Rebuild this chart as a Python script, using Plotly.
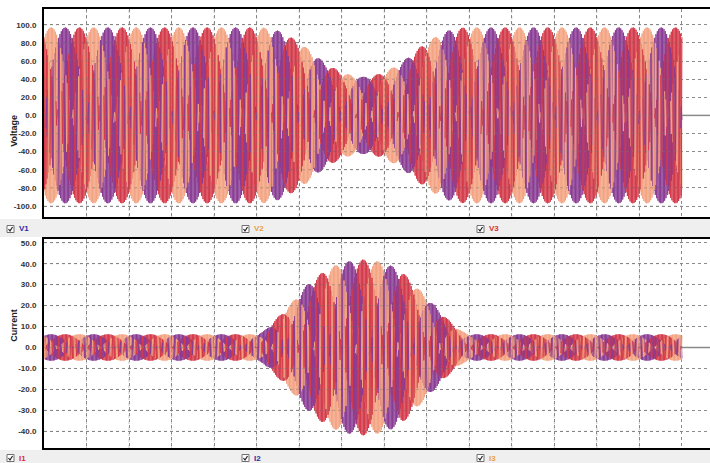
import numpy as np
import plotly.graph_objects as go

# x is in grid divisions (the recording spans 15 divisions, axis runs a bit past it)
X_END = 15.0
X_AXIS_MAX = 15.66

# voltage envelope (peak, V)
V_ENV_X = [0, 5.0, 5.3, 5.6, 6.0, 6.3, 6.6, 7.0, 7.25, 7.5, 7.75, 8.0, 8.4, 8.7, 9.0, 9.4, 9.7, 10.0, 15.0]
V_ENV_Y = [97, 97, 96.5, 92, 81, 70, 58, 47.5, 44, 42.5, 44, 47.5, 58, 70, 81, 92, 96.5, 97, 97]

# current envelope (peak, A)
I_ENV_X = [0, 5.0, 5.15, 5.3, 5.55, 5.8, 6.2, 6.6, 7.0, 7.5, 8.0, 8.4, 8.7, 9.15, 9.4, 9.65, 9.85, 10.0, 15.0]
I_ENV_Y = [6.3, 6.3, 7.5, 10.4, 15.5, 20.8, 30.3, 36.7, 40.7, 42, 40.7, 36.7, 30.3, 20.8, 15.5, 10.4, 7.5, 6.3, 6.3]

PHASES_DEG = [0, -120, 120]
V_NAMES = ["V1", "V2", "V3"]
I_NAMES = ["I1", "I2", "I3"]

V_TICKS = [100, 80, 60, 40, 20, 0, -20, -40, -60, -80, -100]
I_TICKS = [50, 40, 30, 20, 10, 0, -10, -20, -30, -40]

BLUE = "#8a3c94"
ORANGE = "#f4a482"
RED = "#d43a4a"
V_COLORS = [BLUE, ORANGE, RED]
I_COLORS = [RED, BLUE, ORANGE]
TXT = {"V1": "#2a2aa8", "V2": "#e8a040", "V3": "#d83030",
       "I1": "#d83030", "I2": "#2a2aa8", "I3": "#e8a040"}

# screen-sampled waveform: ~2 samples per cycle, slow drift gives the beat pattern
N_SAMP = 960
CHUNK = 3  # channels are painted interleaved, a few samples at a time
k = np.arange(N_SAMP)
t = np.linspace(0, X_END, N_SAMP)
step = np.pi + 15 * np.pi / N_SAMP

fig = go.Figure()

def add_set(env_x, env_y, names, colors, xa, ya):
    env = np.interp(t, env_x, env_y)
    ys = [env * np.sin(np.radians(ph) + k * step) for ph in PHASES_DEG]
    traces = []
    for j, s in enumerate(range(0, N_SAMP - 1, CHUNK)):
        e = min(s + CHUNK + 1, N_SAMP)
        for r in range(3):
            i = (j + r) % 3
            traces.append(go.Scatter(x=t[s:e], y=ys[i][s:e], mode="lines", name=names[i],
                                     xaxis=xa, yaxis=ya, legendgroup=names[i],
                                     line=dict(color=colors[i], width=1, simplify=False),
                                     showlegend=False, hoverinfo="skip"))
    traces.append(go.Scatter(x=[X_END, X_AXIS_MAX], y=[0, 0], mode="lines", xaxis=xa, yaxis=ya,
                             line=dict(color="#8a8a8a", width=1.5), showlegend=False,
                             hoverinfo="skip"))
    fig.add_traces(traces)

add_set(V_ENV_X, V_ENV_Y, V_NAMES, V_COLORS, "x", "y")
add_set(I_ENV_X, I_ENV_Y, I_NAMES, I_COLORS, "x2", "y2")

grid = dict(showgrid=True, gridcolor="#8c8c8c", griddash="dot", gridwidth=1, zeroline=False)
xax = dict(range=[0, X_AXIS_MAX], dtick=1, tick0=0, showticklabels=False,
           showline=True, linecolor="black", linewidth=2, mirror=True, **grid)
tickfont = dict(family="Arial", size=8, color="#333333", weight="bold")
yax = dict(showline=True, linecolor="black", linewidth=2, tickfont=tickfont,
           ticklabelstandoff=4, ticks="", **grid)

fig.update_layout(
    width=710, height=463,
    margin=dict(l=44, r=0, t=9, b=15),
    paper_bgcolor="white", plot_bgcolor="white",
    xaxis=dict(anchor="y", **xax),
    xaxis2=dict(anchor="y2", **xax),
    yaxis=dict(domain=[0.526, 1], range=[-112.2, 117.4], tickvals=V_TICKS,
               ticktext=[f"{v:.1f}" for v in V_TICKS], **yax),
    yaxis2=dict(domain=[0, 0.476], range=[-48, 51.8], tickvals=I_TICKS,
                ticktext=[f"{v:.1f}" for v in I_TICKS], **yax),
)

# dotted grid repeated over the traces, as in the instrument view
for yr, xr, ticks in [("y", "x", V_TICKS), ("y2", "x2", I_TICKS)]:
    for v in ticks:
        fig.add_shape(type="line", xref=xr, yref=yr, x0=0, x1=X_END, y0=v, y1=v,
                      line=dict(color="rgba(120,120,120,0.4)", width=1, dash="dot"), layer="above")
    for gx in range(1, int(X_END)):
        fig.add_shape(type="line", xref=xr, yref=yr + " domain", x0=gx, x1=gx, y0=0, y1=1,
                      line=dict(color="rgba(120,120,120,0.4)", width=1, dash="dot"), layer="above")

# axis titles
for txt, ypos in [("Voltage", 0.763), ("Current", 0.238)]:
    fig.add_annotation(text=txt, xref="paper", yref="paper", x=-0.056, y=ypos,
                       textangle=-90, showarrow=False,
                       font=dict(family="Arial", size=9, color="#222222", weight="bold"))

# channel strips with checkboxes under each panel
PLOT_H = 463 - 9 - 15

def py(px):
    return (463 - 15 - px) / PLOT_H

def pxx(px):
    return (px - 44) / 666

for names, top, bot, cy in [(V_NAMES, 219, 237, 229), (I_NAMES, 450, 463, 458)]:
    fig.add_shape(type="rect", xref="paper", yref="paper", x0=pxx(0), x1=pxx(710),
                  y0=py(bot), y1=py(top), fillcolor="#efefef", line_width=0, layer="below")
    for name, bx in zip(names, [7, 242, 477]):
        fig.add_shape(type="rect", xref="paper", yref="paper", x0=pxx(bx), x1=pxx(bx + 7),
                      y0=py(cy + 3.5), y1=py(cy - 3.5), fillcolor="white",
                      line=dict(color="#707070", width=1))
        fig.add_shape(type="path", xref="paper", yref="paper",
                      path=f"M {pxx(bx+1.5)} {py(cy)} L {pxx(bx+3)} {py(cy+2)} L {pxx(bx+5.5)} {py(cy-2)}",
                      line=dict(color="#222222", width=1.2))
        fig.add_annotation(text=name, xref="paper", yref="paper", x=pxx(bx + 10), y=py(cy),
                           xanchor="left", yanchor="middle", showarrow=False,
                           font=dict(family="Arial", size=8, color=TXT[name], weight="bold"))

fig.write_html("out.html", config={"displayModeBar": False},
               post_script="document.body.style.margin='0';")
